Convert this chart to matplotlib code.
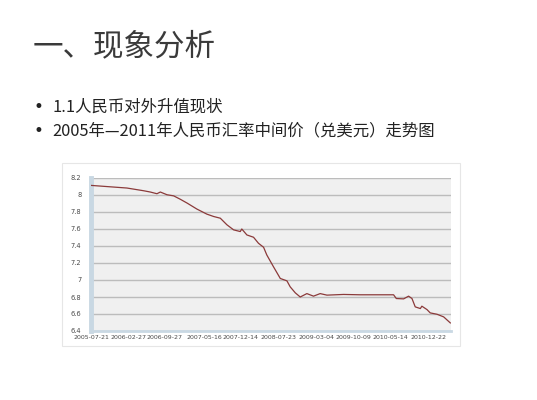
import matplotlib
matplotlib.use("Agg")
import matplotlib.pyplot as plt
import pandas as pd
from matplotlib.patches import Rectangle

# ---- data ----
dates = ["2005-07-21", "2006-02-17", "2006-05-26", "2006-07-04", "2006-08-12",
         "2006-09-01", "2006-10-10", "2006-11-18", "2006-12-27", "2007-02-05",
         "2007-04-04", "2007-06-01", "2007-07-11", "2007-08-19", "2007-09-27",
         "2007-11-05", "2007-12-14", "2007-12-23", "2008-01-22", "2008-03-01",
         "2008-03-30", "2008-04-29", "2008-05-18", "2008-06-26", "2008-08-05",
         "2008-09-13", "2008-10-02", "2008-11-01", "2008-11-30", "2009-01-08",
         "2009-02-16", "2009-03-27", "2009-05-06", "2009-08-11", "2009-11-17",
         "2010-06-01", "2010-06-17", "2010-07-30", "2010-08-28", "2010-09-17",
         "2010-10-06", "2010-11-05", "2010-11-14", "2010-12-14", "2011-01-02",
         "2011-02-11", "2011-03-22", "2011-04-30"]
rates = [8.113, 8.082, 8.050, 8.035, 8.015,
         8.035, 8.003, 7.990, 7.950, 7.905,
         7.834, 7.775, 7.747, 7.727, 7.649,
         7.590, 7.570, 7.600, 7.530, 7.503,
         7.432, 7.385, 7.294, 7.156, 7.018,
         6.990, 6.920, 6.849, 6.800, 6.840,
         6.810, 6.840, 6.822, 6.830, 6.826,
         6.826, 6.782, 6.778, 6.810, 6.782,
         6.684, 6.664, 6.692, 6.652, 6.613,
         6.597, 6.566, 6.495]
tick_dates = ["2005-07-21", "2006-02-27", "2006-09-27", "2007-05-16", "2007-12-14",
              "2008-07-23", "2009-03-04", "2009-10-09", "2010-05-14", "2010-12-22"]
y_ticks = [6.4, 6.6, 6.8, 7.0, 7.2, 7.4, 7.6, 7.8, 8.0, 8.2]
y_ticklabels = ["6.4", "6.6", "6.8", "7", "7.2", "7.4", "7.6", "7.8", "8", "8.2"]

title = "一、现象分析"
bullets = ["1.1人民币对外升值现状", "2005年—2011年人民币汇率中间价（兑美元）走势图"]

W, H = 537, 400
fig = plt.figure(figsize=(W / 100, H / 100), dpi=100)
fig.patch.set_facecolor("white")
fam = ["Noto Sans CJK SC", "DejaVu Sans"]

# slide text
fig.text(33 / W, 1 - 47 / H, title, fontsize=22, color="#3a3a3a", family=fam,
         weight="light", ha="left", va="center")
for i, b in enumerate(bullets):
    y = 1 - (107 + 24 * i) / H
    fig.text(33 / W, y, "•", fontsize=12, color="#222222", family=["DejaVu Sans"],
             ha="left", va="center")
    fig.text(52 / W, y, b, fontsize=11.8, color="#222222", family=fam, ha="left", va="center")

# chart panel frame
fig.patches.append(Rectangle((62 / W, 1 - 346 / H), (460 - 62) / W, (346 - 163) / H,
                             transform=fig.transFigure, facecolor="white",
                             edgecolor="#e6e6e6", lw=0.8, zorder=0))

ax = fig.add_axes([91 / W, 1 - 331 / H, (451 - 91) / W, (331 - 178) / H])
ax.set_zorder(2)
ax.set_facecolor("#f0f0f0")

x = pd.to_datetime(dates)
ax.plot(x, rates, color="#8b3a3a", lw=0.9, zorder=3)

ax.set_ylim(6.4, 8.2)
ax.set_yticks(y_ticks)
ax.set_yticklabels(y_ticklabels)
ax.set_xlim(pd.Timestamp("2005-07-21"), pd.Timestamp("2011-05-04"))
ax.set_xticks(pd.to_datetime(tick_dates))
ax.set_xticklabels(tick_dates)

ax.grid(axis="y", color="#bcbcbc", lw=1.0)
ax.grid(axis="x", visible=False)
ax.set_axisbelow(True)

for s in ["top", "right"]:
    ax.spines[s].set_visible(False)
ax.spines["left"].set_color("#c9d8e3")
ax.spines["left"].set_linewidth(3.5)
ax.spines["bottom"].set_color("#c9d8e3")
ax.spines["bottom"].set_linewidth(2)

ax.tick_params(axis="y", length=0, pad=7, labelsize=4.8, labelcolor="#4a4a4a")
ax.tick_params(axis="x", length=0, pad=3, labelsize=4.5, labelcolor="#4a4a4a")

fig.savefig("out.png", dpi=100, facecolor="white")
